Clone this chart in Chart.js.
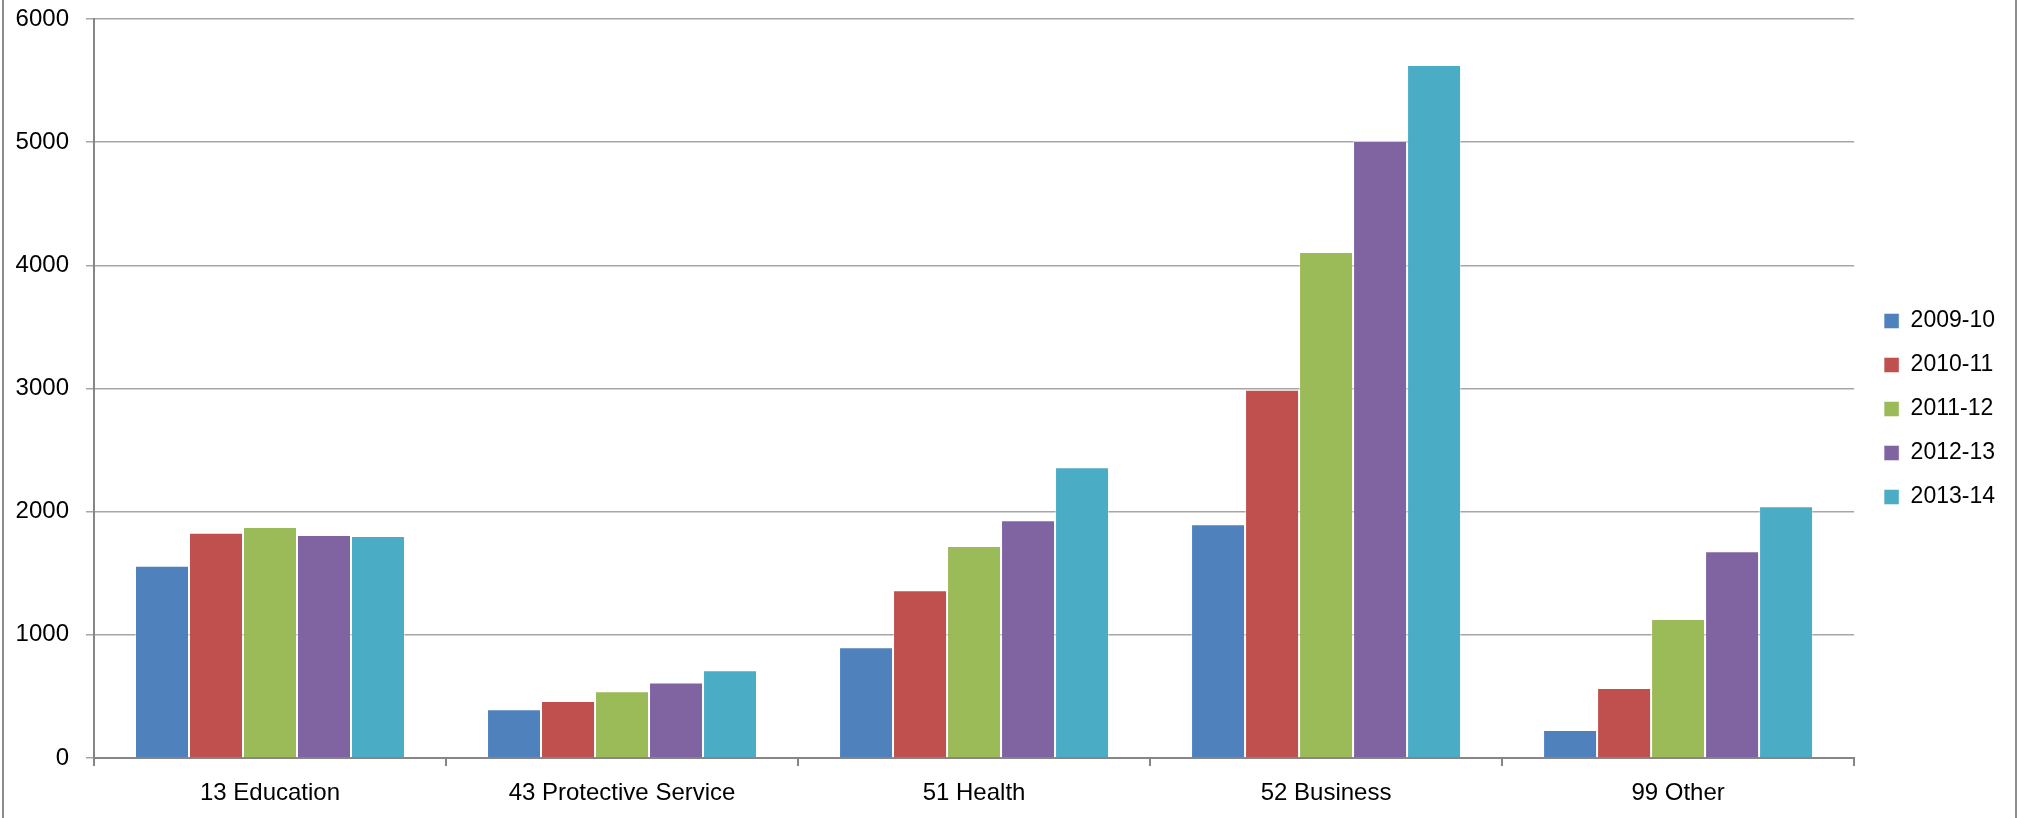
<!DOCTYPE html>
<html>
<head>
<meta charset="utf-8">
<script src="https://cdn.jsdelivr.net/npm/chart.js@4"></script>
<style>
  body { margin: 0; background: #fff; }
  #wrap { position: relative; width: 2019px; height: 818px; }
  #frame { position: absolute; left: 2px; top: 0; width: 2011px; height: 818px;
           border-left: 2px solid #8c8c8c; border-right: 2px solid #8c8c8c; pointer-events: none; }
</style>
</head>
<body>
<div id="wrap">
  <canvas id="myChart" width="2019" height="818"></canvas>
  <div id="frame"></div>
</div>
<script>
const categorias = ["13 Education", "43 Protective Service", "51 Health", "52 Business", "99 Other"];
const anios = ["2009-10", "2010-11", "2011-12", "2012-13", "2013-14"];
const colores = ["#4F81BD", "#C0504D", "#9BBB59", "#8064A2", "#4BACC6"];

const valores2009 = [1561, 395, 899, 1897, 227];
const valores2010 = [1829, 463, 1361, 2990, 568];
const valores2011 = [1875, 541, 1721, 4108, 1128];
const valores2012 = [1810, 614, 1930, 5009, 1678];
const valores2013 = [1802, 712, 2360, 5626, 2043];
const series = [valores2009, valores2010, valores2011, valores2012, valores2013];

const ctx = document.getElementById("myChart");
const fuente = "'Liberation Sans', Arial, sans-serif";

// corre la leyenda un poco a la derecha, como en Excel
const moverLeyenda = {
  id: "moverLeyenda",
  afterLayout: (chart) => {
    chart.legend.left += 9;
    chart.legend.right += 9;
  },
};

const myChart = new Chart(ctx, {
  type: "bar",
  data: {
    labels: categorias,
    datasets: series.map((data, i) => ({
      label: anios[i],
      data: data,
      backgroundColor: colores[i],
      borderColor: "rgba(255, 255, 255, 0.45)",
      borderWidth: 1,
      categoryPercentage: 0.767,
      barPercentage: 1,
    })),
  },
  options: {
    responsive: false,
    animation: false,
    devicePixelRatio: 1,
    layout: { padding: { top: 0, right: 23, bottom: 0, left: 0 } },
    plugins: {
      tooltip: { enabled: false },
      legend: {
        position: "right",
        labels: {
          boxWidth: 15,
          boxHeight: 15,
          padding: 21,
          color: "#000",
          font: { family: fuente, size: 23 },
        },
      },
    },
    scales: {
      x: {
        afterFit: (scale) => { scale.height = 60; },
        grid: { drawOnChartArea: false, drawTicks: true, tickLength: 8, color: "#868686", lineWidth: 2 },
        border: { color: "#868686", width: 2 },
        ticks: { color: "#000", padding: 13, maxRotation: 0, font: { family: fuente, size: 24 } },
      },
      y: {
        min: 0,
        max: 6000,
        afterFit: (scale) => {
          scale.width = 94;
          scale.paddingTop = 19;
          scale.paddingBottom = 0;
        },
        grid: { color: "#a6a6a6", lineWidth: 1.5, tickLength: 8 },
        border: { color: "#868686", width: 2 },
        ticks: {
          stepSize: 1000,
          color: "#000",
          padding: 17,
          font: { family: fuente, size: 24 },
          callback: (valor) => String(valor),
        },
      },
    },
  },
  plugins: [moverLeyenda],
});
</script>
</body>
</html>
